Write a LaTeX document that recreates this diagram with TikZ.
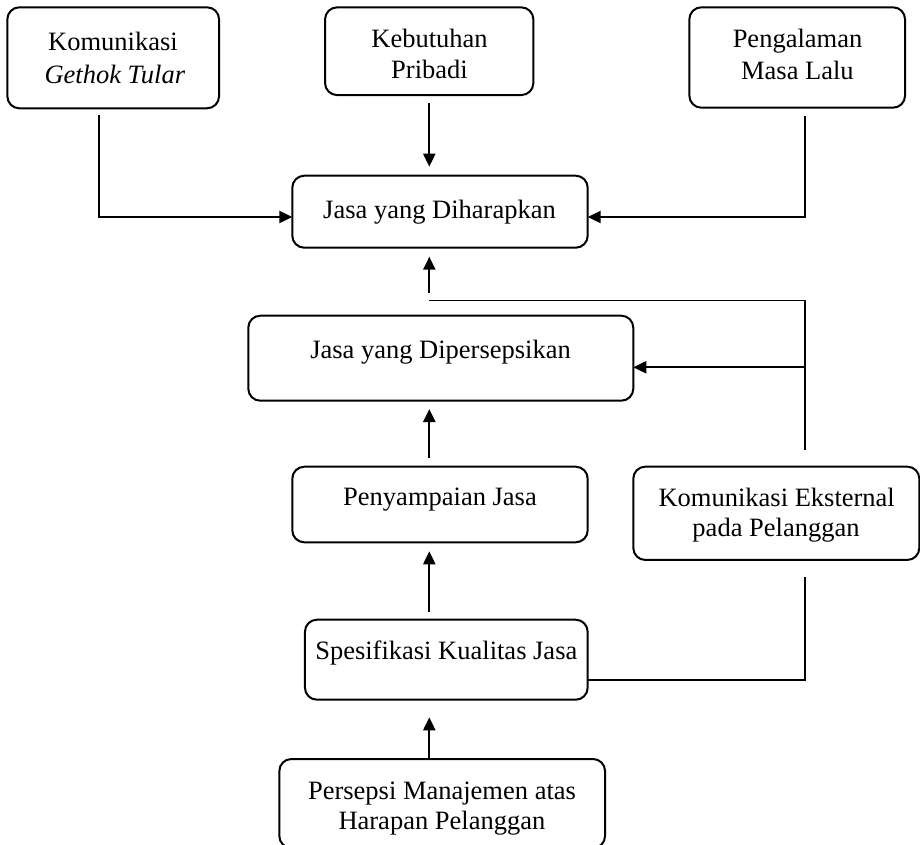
\documentclass[tikz,border=0pt]{standalone}
\usepackage{fontspec}
\setmainfont{Liberation Serif}
\usetikzlibrary{arrows.meta}
\begin{document}
\begin{tikzpicture}[x=1pt,y=1pt,
  box/.style={draw, line width=2pt, rounded corners=12pt, inner sep=0pt, outer sep=0pt},
  lbl/.style={anchor=base, inner sep=0pt, font=\fontsize{26.5}{31}\selectfont},
  conn/.style={line width=1.9pt},
  arr/.style={line width=2.2pt, -{Triangle[length=13pt,width=12pt]}}]
\useasboundingbox (0,0) rectangle (920,-844);
% boxes
\node[box, minimum width=211.7pt, minimum height=101pt]  (kom) at (113.2,-57.8) {};
\node[box, minimum width=208.3pt, minimum height=87.7pt] (keb) at (429.2,-51.2) {};
\node[box, minimum width=215.7pt, minimum height=100.4pt] (pen) at (797.2,-57.5) {};
\node[box, minimum width=295.4pt, minimum height=72pt]   (har) at (440,-211.7) {};
\node[box, minimum width=385pt,   minimum height=85pt]   (dip) at (440.8,-358.2) {};
\node[box, minimum width=295.4pt, minimum height=75.6pt] (pny) at (440,-504.5) {};
\node[box, minimum width=286pt,   minimum height=93.3pt] (eks) at (776.3,-513.3) {};
\node[box, minimum width=282.7pt, minimum height=80pt]   (spe) at (446.3,-659.7) {};
\node[box, minimum width=325.7pt, minimum height=89pt]   (per) at (442.2,-803.5) {};
% texts
\node[lbl] (kom1) at (113,-50.7) {Komunikasi};
\node[lbl] (kom2) at (114.9,-83.3) {\textit{Gethok Tular}};
\node[lbl] (keb1) at (429.5,-47.3) {Kebutuhan};
\node[lbl] (keb2) at (429.5,-78.3) {Pribadi};
\node[lbl] (pen1) at (797.5,-47.7) {Pengalaman};
\node[lbl] (pen2) at (797.4,-79) {Masa Lalu};
\node[lbl] (har1) at (439.5,-218.3) {Jasa yang Diharapkan};
\node[lbl] (dip1) at (440.5,-358) {Jasa yang Dipersepsikan};
\node[lbl] (pny1) at (440,-505.7) {Penyampaian Jasa};
\node[lbl] (eks1) at (776.7,-506) {Komunikasi Eksternal};
\node[lbl] (eks2) at (776,-536.7) {pada Pelanggan};
\node[lbl] (spe1) at (446.3,-659) {Spesifikasi Kualitas Jasa};
\node[lbl] (per1) at (442,-799) {Persepsi Manajemen atas};
\node[lbl] (per2) at (441.9,-829) {Harapan Pelanggan};
% junction coordinates
\coordinate (ax) at (429.3,0);
\coordinate (j1) at (805,-300.5);
\coordinate (j2) at (429.3,-300.5);
\coordinate (j3) at (805,-367.3);
\coordinate (j4) at (429.3,-292.7);
\coordinate (j5) at (805,-680);
\coordinate (hy) at (0,-217);
% connectors
\draw[arr, shorten <=6.7pt] (kom.south -| 99,0) |- (har.west |- hy);
\draw[arr, shorten <=8pt] (pen.south -| j1) |- (har.east |- hy);
\draw[arr, shorten <=7.7pt, shorten >=9pt] (keb.south -| ax) -- (har.north -| ax);
\draw[conn, shorten <=16.7pt] (eks.north -| j1) -- (j1) -- (j2);
\draw[arr, shorten >=9pt] (j4) -- (har.south -| j4);
\draw[arr] (j3) -- (dip.east |- j3);
\draw[conn, shorten >=16.7pt] (spe.east |- j5) -- (j5) -- (eks.south -| j5);
\draw[arr, shorten <=8.7pt, shorten >=8.3pt] (pny.north -| ax) -- (dip.south -| ax);
\draw[arr, shorten <=8pt, shorten >=9pt] (spe.north -| ax) -- (pny.south -| ax);
\draw[arr, shorten >=17.6pt] (per.north -| ax) -- (spe.south -| ax);
\end{tikzpicture}
\end{document}
